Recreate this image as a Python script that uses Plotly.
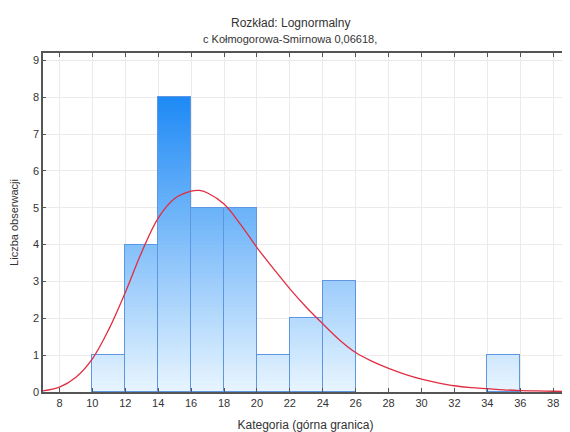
import plotly.graph_objects as go

# histogram bins (upper bound of each 2-wide category) and counts
bin_left = [10, 12, 14, 16, 18, 20, 22, 24, 34]
bin_count = [1, 4, 8, 5, 5, 1, 2, 3, 1]
bin_width = 2

# fitted lognormal curve
curve_x = [7, 8, 9, 10, 11, 12, 13, 14, 15, 16, 16.5, 17, 18, 19, 20, 21, 22, 23, 24, 25,
           26, 27, 28, 29, 30, 31, 32, 33, 34, 35, 36, 37, 38, 39]
curve_y = [0.03, 0.13, 0.4, 0.9, 1.7, 2.7, 3.8, 4.72, 5.25, 5.45, 5.47, 5.4, 5.1, 4.55, 3.92, 3.35,
           2.8, 2.3, 1.85, 1.42, 1.07, 0.83, 0.64, 0.48, 0.35, 0.25, 0.17, 0.12, 0.09, 0.06,
           0.04, 0.03, 0.02, 0.015]

x_ticks = list(range(8, 39, 2))
y_ticks = list(range(0, 10))

title_lines = ["Rozkład: Lognormalny", "c Kołmogorowa-Smirnowa 0,06618,"]
x_title = "Kategoria (górna granica)"
y_title = "Liczba obserwacji"

FONT = "Liberation Sans, Arial, sans-serif"
top_rgb = (25, 135, 245)
bot_rgb = (232, 245, 255)
top_level = 8.2


def colour_at(level):
    t = max(0.0, min(1.0, level / top_level))
    c = [round(b + (a - b) * t) for a, b in zip(top_rgb, bot_rgb)]
    return f"rgb({c[0]},{c[1]},{c[2]})"


fig = go.Figure()

# gradient-filled bars: stacked thin slices
step = 0.1
n_slices = int(round(max(bin_count) / step))
centers = [b + bin_width / 2 for b in bin_left]
for k in range(n_slices):
    lo = k * step
    heights = [max(0.0, min(step, c - lo)) for c in bin_count]
    fig.add_trace(go.Bar(
        x=centers, y=heights, width=[bin_width] * len(centers),
        marker=dict(color=colour_at(lo + step / 2), line=dict(width=0)),
        hoverinfo="skip", showlegend=False,
    ))

# outlines
fig.add_trace(go.Bar(
    x=centers, y=bin_count, width=[bin_width] * len(centers), base=0,
    marker=dict(color="rgba(0,0,0,0)", line=dict(color="rgb(95,150,225)", width=1)),
    showlegend=False,
))

fig.add_trace(go.Scatter(
    x=curve_x, y=curve_y, mode="lines", line=dict(color="rgb(225,45,65)", width=1.3, shape="spline"),
    showlegend=False,
))

# the page adds an 8px body margin, so the figure is 8px smaller and margins shifted
fig.update_layout(
    width=562, height=424,
    barmode="stack", bargap=0,
    paper_bgcolor="white", plot_bgcolor="white",
    margin=dict(l=35, r=2, t=45, b=40),
    font=dict(family=FONT, size=11, color="#333"),
    annotations=[
        dict(text=title_lines[0], xref="paper", yref="paper", x=0.4705, y=1.0885,
             xanchor="center", yanchor="middle", showarrow=False, font=dict(size=12, color="#333")),
        dict(text=title_lines[1], xref="paper", yref="paper", x=0.4705, y=1.0413,
             xanchor="center", yanchor="middle", showarrow=False, font=dict(size=11, color="#333")),
    ],
    xaxis=dict(range=[7, 38.9], tickvals=x_ticks, ticks="inside", ticklen=4, tickcolor="#555",
               showline=True, linecolor="#555", linewidth=1.5, mirror="ticks", layer="above traces",
               showgrid=True, gridcolor="#ebebeb", zeroline=False, automargin=False,
               title=dict(text=x_title, font=dict(size=12), standoff=13)),
    yaxis=dict(range=[0, 9.2], tickvals=y_ticks, ticks="inside", ticklen=3, tickcolor="#555",
               showline=True, linecolor="#555", linewidth=1.5, mirror="ticks", layer="above traces",
               showgrid=True, gridcolor="#ebebeb", zeroline=False, automargin=False,
               title=dict(text=y_title, font=dict(size=11), standoff=12)),
)

fig.write_html("out.html")
